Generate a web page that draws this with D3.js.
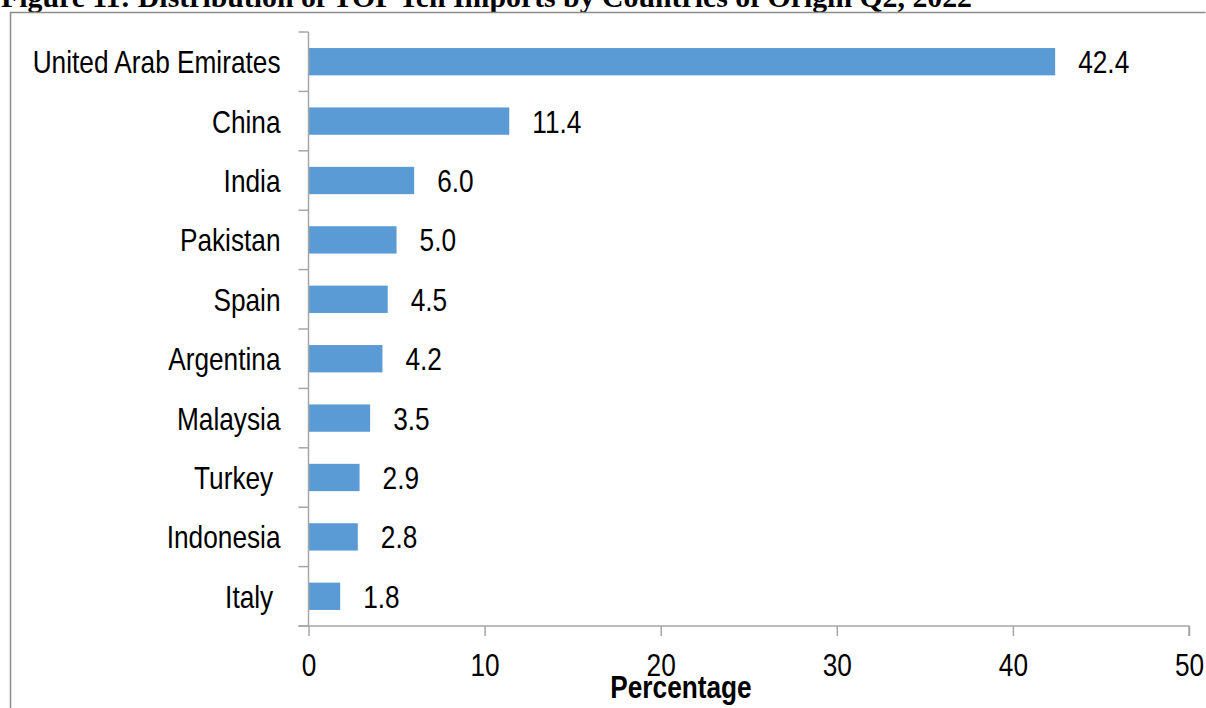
<!DOCTYPE html>
<html>
<head>
<meta charset="utf-8">
<script src="https://cdn.jsdelivr.net/npm/d3@7"></script>
<style>
  body { margin: 0; background: #fff; }
  svg { display: block; }
  .lbl { font-family: "Liberation Sans", Arial, sans-serif; fill: #000; white-space: pre; }
  .title { font-family: "Liberation Serif", "Times New Roman", serif; font-weight: bold; }
</style>
</head>
<body>
<div id="chart"></div>
<script>
// "Turkey " and "Italy " carry a trailing space in the source sheet
var countries = ["United Arab Emirates", "China", "India", "Pakistan", "Spain",
  "Argentina", "Malaysia", "Turkey ", "Indonesia", "Italy "];
var shares = [42.4, 11.4, 6.0, 5.0, 4.5, 4.2, 3.5, 2.9, 2.8, 1.8];
var xTicks = [0, 10, 20, 30, 40, 50];

var width = 1206, height = 708;
var margin = { top: 32, right: 17, bottom: 82, left: 308.5 };
var fontSize = 32, narrow = 0.82; // no narrow face installed, so squeeze the sans

var svg = d3.select("#chart").append("svg")
  .attr("width", width)
  .attr("height", height);

// title, clipped at the top like the source scan
svg.append("text")
  .attr("class", "title")
  .attr("x", 1)
  .attr("y", 6.5)
  .attr("font-size", 29.8)
  .text("Figure 11: Distribution of TOP Ten Imports by Countries of Origin Q2, 2022");

// outer frame
svg.append("path")
  .attr("d", "M10.5," + height + "V12.5H1205.5")
  .attr("fill", "none")
  .attr("stroke", "#8c8c8c")
  .attr("stroke-width", 1.5);

var x = d3.scaleLinear().domain([0, 50]).range([margin.left, width - margin.right]);
var y = d3.scaleBand().domain(countries).range([margin.top, height - margin.bottom]).paddingInner(0.54).paddingOuter(0.27);

function narrowAt(px, py) {
  return "translate(" + px + "," + py + ") scale(" + narrow + ",1)";
}

var g = svg.append("g");

// bars
g.selectAll("rect.bar").data(countries).enter().append("rect")
  .attr("class", "bar")
  .attr("x", x(0))
  .attr("y", function(d) { return y(d); })
  .attr("width", function(d, i) { return x(shares[i]) - x(0); })
  .attr("height", y.bandwidth())
  .attr("fill", "#5b9bd5");

// value labels
g.selectAll("text.val").data(countries).enter().append("text")
  .attr("class", "lbl val")
  .attr("transform", function(d, i) { return narrowAt(x(shares[i]) + 23, y(d) + y.bandwidth() / 2); })
  .attr("dy", "0.36em")
  .attr("font-size", fontSize)
  .text(function(d, i) { return shares[i].toFixed(1); });

// y axis: line + ticks on the band boundaries
var bandH = (height - margin.bottom - margin.top) / countries.length;
var bandEdges = d3.range(countries.length + 1).map(function(i) { return margin.top + i * bandH; });
g.append("line")
  .attr("x1", x(0)).attr("x2", x(0))
  .attr("y1", margin.top).attr("y2", height - margin.bottom)
  .attr("stroke", "#a6a6a6").attr("stroke-width", 1.5);
g.selectAll("line.ytick").data(bandEdges).enter().append("line")
  .attr("class", "ytick")
  .attr("x1", x(0) - 10).attr("x2", x(0))
  .attr("y1", function(d) { return d; }).attr("y2", function(d) { return d; })
  .attr("stroke", "#a6a6a6").attr("stroke-width", 1.5);

// category labels
g.selectAll("text.cat").data(countries).enter().append("text")
  .attr("class", "lbl cat")
  .attr("transform", function(d) { return narrowAt(x(0) - 28, y(d) + y.bandwidth() / 2); })
  .attr("dy", "0.36em")
  .attr("text-anchor", "end")
  .attr("font-size", fontSize)
  .text(function(d) { return d; });

// x axis
var xAxis = d3.axisBottom(x).tickValues(xTicks).tickSize(10).tickPadding(17);
var ax = svg.append("g")
  .attr("transform", "translate(0," + (height - margin.bottom) + ")")
  .call(xAxis);
ax.select(".domain").attr("stroke", "#a6a6a6").attr("stroke-width", 1.5)
  .attr("d", "M" + (x(0) - 10) + ",0H" + x(50) + "V10");
ax.selectAll(".tick line").attr("stroke", "#a6a6a6").attr("stroke-width", 1.5);
ax.selectAll(".tick text")
  .attr("class", "lbl")
  .attr("font-size", fontSize)
  .attr("fill", "#000")
  .attr("transform", "scale(" + narrow + ",1)");

svg.append("text")
  .attr("class", "lbl")
  .attr("transform", narrowAt(681, 698))
  .attr("text-anchor", "middle")
  .attr("font-size", fontSize)
  .attr("font-weight", "bold")
  .text("Percentage");
</script>
</body>
</html>
